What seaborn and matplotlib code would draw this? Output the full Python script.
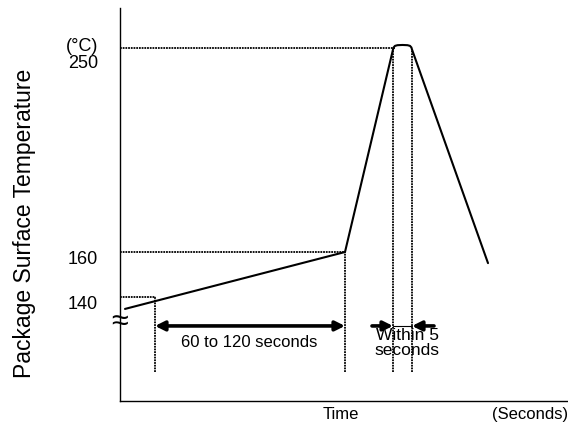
import matplotlib
matplotlib.use("Agg")
import matplotlib.pyplot as plt
import matplotlib.transforms as mtransforms
import seaborn as sns
import numpy as np
import pandas as pd

# schematic reflow profile (time in arbitrary units, temperature in degC)
time_pts = [5, 225, 273, 273.6, 275, 277.5, 282.5, 287.5, 290, 291.4, 292, 368]
temp_pts = [134.9, 160.0, 249.3, 250.2, 250.9, 251.2, 251.3, 251.2, 250.9, 250.2, 249.3, 155.1]

temp_ticks = [140, 160, 250]
temp_tick_labels = ["140", "160", "(°C)\n250"]

# reference levels: (temperature, time where the dotted line ends)
ref_levels = [250, 160, 140]
ref_ends = [275, 225, 35]

# dotted guide verticals: (time, top temperature)
guide_times = [35, 225, 273, 292]
guide_tops = [140.5, 160, 249.3, 249.3]
guide_bottom = 107.1

sns.set_style("white")
plt.rcParams["font.family"] = ["Liberation Sans", "DejaVu Sans"]
plt.rcParams["text.color"] = "black"
plt.rcParams["axes.labelcolor"] = "black"
plt.rcParams["ytick.color"] = "black"

fig = plt.figure(figsize=(5.68, 4.23), dpi=100)
ax = fig.add_axes([120 / 568, 22 / 423, 447 / 568, 393 / 423])
ax.set_xlim(0, 447)
ax.set_ylim(94.3, 267.6)

df = pd.DataFrame({"time": time_pts, "temp": temp_pts})
sns.lineplot(data=df, x="time", y="temp", sort=False, color="black", lw=1.5, ax=ax)

dots = (0, (1, 0.5))
for lvl, end in zip(ref_levels, ref_ends):
    ax.plot([0, end], [lvl, lvl], color="black", lw=1.3, linestyle=dots)
for t, top in zip(guide_times, guide_tops):
    ax.plot([t, t], [guide_bottom, top], color="black", lw=1.3, linestyle=dots)

# 60 to 120 seconds arrow
arrow_y = 127.4
ax.annotate("", xy=(35, arrow_y), xytext=(225, arrow_y),
            arrowprops=dict(arrowstyle="<|-|>", lw=2.6, color="black",
                            mutation_scale=14, shrinkA=0, shrinkB=0))
ax.text(129, 119.9, "60 to 120 seconds", ha="center", va="center", fontsize=12)

# within 5 seconds arrows
ax.annotate("", xy=(273, arrow_y), xytext=(252, arrow_y),
            arrowprops=dict(arrowstyle="-|>", lw=2.6, color="black",
                            mutation_scale=14, shrinkA=0, shrinkB=0))
ax.annotate("", xy=(292, arrow_y), xytext=(314, arrow_y),
            arrowprops=dict(arrowstyle="-|>", lw=2.6, color="black",
                            mutation_scale=14, shrinkA=0, shrinkB=0))
ax.plot([273, 292], [arrow_y, arrow_y], color="black", lw=0.8)
ax.text(287, 119.9, "Within 5\nseconds", ha="center", va="center", fontsize=12.5,
        linespacing=0.95)

# break mark on the temperature axis
ax.text(0, 129.1, "≈", ha="center", va="center", fontsize=22, clip_on=False)

ax.set_yticks(temp_ticks)
ax.set_yticklabels(temp_tick_labels, fontsize=13)
ax.set_xticks([])
ax.tick_params(axis="y", length=0, pad=16)
offset = mtransforms.ScaledTranslation(0, -4 / 72, fig.dpi_scale_trans)
for lab in ax.get_yticklabels():
    lab.set_transform(lab.get_transform() + offset)
    lab.set_linespacing(1.0)

ax.set_xlabel("")
ax.set_ylabel("Package Surface Temperature", fontsize=16.5)
ax.yaxis.set_label_coords(-0.188, 0.453)
ax.text(221, 88.3, "Time", ha="center", va="center", fontsize=12, clip_on=False)
ax.text(410, 88.3, "(Seconds)", ha="center", va="center", fontsize=12, clip_on=False)

sns.despine(ax=ax)
for side in ["left", "bottom"]:
    ax.spines[side].set_color("black")
    ax.spines[side].set_linewidth(1)

fig.savefig("out.png", dpi=100)
